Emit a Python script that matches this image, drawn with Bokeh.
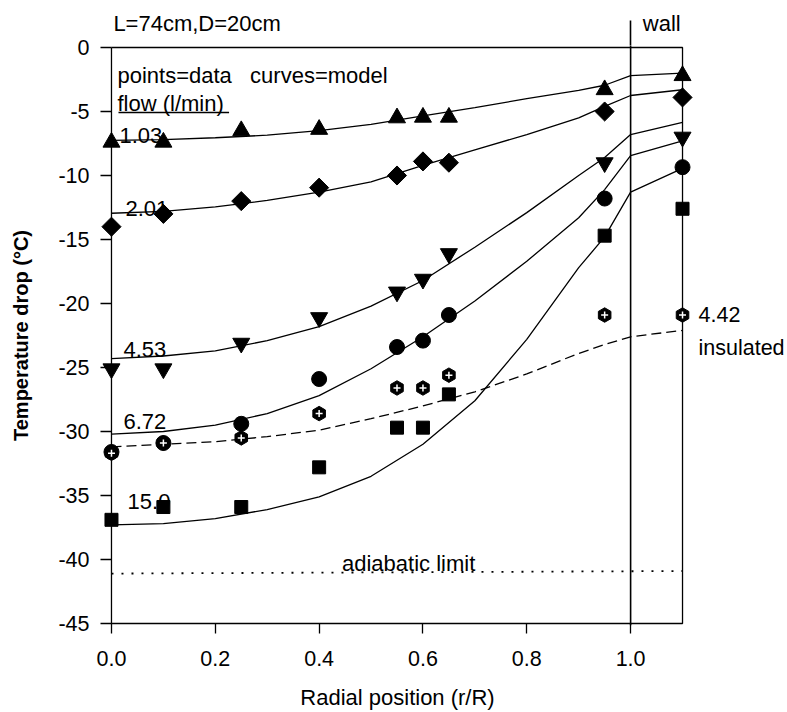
from bokeh.plotting import figure
from bokeh.models import Range1d, FixedTicker, Label, LinearAxis, Span
from bokeh.embed import file_html
from bokeh.resources import INLINE
import math

FONT = "Liberation Sans"

# ---------------- data ----------------
R_DATA = [0.0, 0.1, 0.25, 0.4, 0.55, 0.6, 0.65, 0.95, 1.1]
T_103 = [-7.4, -7.4, -6.5, -6.4, -5.5, -5.45, -5.45, -3.3, -2.2]
T_201 = [-14.0, -13.0, -12.0, -10.95, -10.0, -8.9, -9.0, -5.0, -3.9]
T_453 = [-25.1, -25.1, -23.1, -21.1, -19.1, -18.1, -16.1, -9.0, -7.0]
T_672 = [-31.6, -30.9, -29.4, -25.9, -23.4, -22.9, -20.9, -11.8, -9.35]
T_150 = [-36.9, -35.9, -35.9, -32.8, -29.7, -29.7, -27.1, -14.7, -12.6]
T_442_INS = [-31.7, -30.9, -30.5, -28.6, -26.6, -26.6, -25.6, -20.9, -20.9]

R_MODEL = [0.0, 0.1, 0.2, 0.3, 0.4, 0.5, 0.6, 0.7, 0.8, 0.9, 0.95, 1.0, 1.1]
M_103 = [-7.25, -7.2, -7.05, -6.85, -6.5, -6.0, -5.35, -4.7, -4.0, -3.35, -2.95, -2.2, -2.0]
M_201 = [-12.95, -12.8, -12.45, -11.95, -11.3, -10.5, -9.2, -8.0, -6.8, -5.5, -4.6, -3.75, -3.3]
M_453 = [-24.3, -24.1, -23.7, -22.9, -21.8, -20.2, -18.2, -15.6, -12.9, -10.0, -8.6, -6.8, -5.85]
M_672 = [-30.2, -30.0, -29.5, -28.6, -27.2, -25.1, -22.6, -19.8, -16.7, -13.3, -11.1, -8.45, -7.3]
M_150 = [-37.3, -37.2, -36.8, -36.1, -35.1, -33.5, -31.0, -27.6, -22.8, -17.2, -14.8, -11.3, -9.45]
M_442_INS = [-31.2, -31.0, -30.8, -30.4, -29.9, -29.0, -28.0, -26.9, -25.5, -23.9, -23.2, -22.6, -22.1]

ADIAB_R = [0.0, 1.1]
ADIAB_T = [-41.1, -40.9]

FLOW_LABELS = ["1.03", "2.01", "4.53", "6.72", "15.0"]
INSUL_LABEL = "4.42"

X_TICKS = [0.0, 0.2, 0.4, 0.6, 0.8, 1.0]
X_TICK_LABELS = ["0.0", "0.2", "0.4", "0.6", "0.8", "1.0"]
Y_TICKS = [-45, -40, -35, -30, -25, -20, -15, -10, -5, 0]
Y_TICK_LABELS = ["-45", "-40", "-35", "-30", "-25", "-20", "-15", "-10", "-5", "0"]

R_MIN, R_MAX = 0.0, 1.1
T_MIN, T_MAX = -45.0, 0.0
WALL_R = 1.0

# ---------------- figure ----------------
PX_X = 520.0   # pixels per unit r/R
PX_Y = 12.8    # pixels per degree
p = figure(width=787, height=712, output_backend="svg", toolbar_location=None,
           x_range=Range1d(R_MIN - 11 / PX_X, R_MAX + 12 / PX_X),
           y_range=Range1d(T_MIN - 2 / PX_Y, T_MAX + 2 / PX_Y),
           min_border_left=100, min_border_right=92, min_border_top=45, min_border_bottom=87)
p.grid.visible = False
p.outline_line_color = None
p.background_fill_color = "white"
p.border_fill_color = "white"

xa = p.xaxis[0]
xa.ticker = FixedTicker(ticks=X_TICKS)
xa.major_label_overrides = dict(zip(X_TICKS, X_TICK_LABELS))
xa.axis_line_color = None
xa.major_tick_in = 2
xa.major_tick_out = 8
xa.major_tick_line_width = 1.3
xa.minor_tick_line_color = None
xa.major_label_standoff = 17
xa.major_label_text_font = FONT
xa.major_label_text_font_size = "21.5px"
xa.major_label_text_color = "black"
xa.axis_label = "Radial position (r/R)"
xa.axis_label_standoff = 16
xa.axis_label_text_font = FONT
xa.axis_label_text_font_size = "22px"
xa.axis_label_text_font_style = "normal"
xa.axis_label_text_color = "black"

ya = p.yaxis[0]
ya.ticker = FixedTicker(ticks=Y_TICKS)
ya.major_label_overrides = dict(zip(Y_TICKS, Y_TICK_LABELS))
ya.axis_line_color = None
ya.major_tick_in = 11
ya.major_tick_out = 0
ya.major_tick_line_width = 1.3
ya.minor_tick_line_color = None
ya.major_label_standoff = 11
ya.major_label_text_font = FONT
ya.major_label_text_font_size = "21.5px"
ya.major_label_text_color = "black"
ya.axis_label = "Temperature drop (°C)"
ya.axis_label_standoff = 23
ya.axis_label_text_font = FONT
ya.axis_label_text_font_size = "20px"
ya.axis_label_text_font_style = "bold"
ya.axis_label_text_color = "black"

# top: header texts and the wall line continuing above the box
TOP_POS = [0.165, 1.06]
TOP_TEXT = ["L=74cm,D=20cm", "wall"]
top = LinearAxis(ticker=FixedTicker(ticks=TOP_POS, minor_ticks=[WALL_R]),
                 major_label_overrides=dict(zip(TOP_POS, TOP_TEXT)),
                 axis_line_color=None, major_tick_line_color=None,
                 major_tick_out=0, major_tick_in=0,
                 minor_tick_out=25, minor_tick_in=0,
                 minor_tick_line_color="black", minor_tick_line_width=1.6,
                 major_label_standoff=-15, major_label_text_font=FONT,
                 major_label_text_font_size="22px", major_label_text_color="black")
p.add_layout(top, "above")

# right: insulated-run labels
RIGHT_POS = [-20.9, -23.5]
RIGHT_TEXT = [INSUL_LABEL, "insulated"]
right = LinearAxis(ticker=FixedTicker(ticks=RIGHT_POS, minor_ticks=[]),
                   major_label_overrides=dict(zip(RIGHT_POS, RIGHT_TEXT)),
                   axis_line_color=None, major_tick_line_color=None,
                   major_tick_out=0, major_tick_in=0, minor_tick_line_color=None,
                   major_label_standoff=4, major_label_text_font=FONT,
                   major_label_text_font_size="21.5px", major_label_text_color="black")
p.add_layout(right, "right")

# frame box and wall
p.line([R_MIN, R_MAX, R_MAX, R_MIN, R_MIN], [T_MAX, T_MAX, T_MIN, T_MIN, T_MAX],
       line_color="black", line_width=1.3)
p.add_layout(Span(location=WALL_R, dimension="height", line_color="black", line_width=1.6))

# adiabatic limit
p.line(ADIAB_R, ADIAB_T, line_color="black", line_width=1.8, line_dash="2 8")

# model curves
for m in [M_103, M_201, M_453, M_672, M_150]:
    p.line(R_MODEL, m, line_color="black", line_width=1.3)
p.line(R_MODEL, M_442_INS, line_color="black", line_width=1.3, line_dash="10 5")

# data points
p.scatter(R_DATA, T_103, marker="triangle", size=17, color="black")
p.scatter(R_DATA, T_201, marker="square", size=13.5, angle=math.pi / 4, color="black")
p.scatter(R_DATA, T_453, marker="inverted_triangle", size=17, color="black")
p.scatter(R_DATA, T_672, marker="circle", size=15, color="black")
p.scatter(R_DATA, T_150, marker="square", size=13, color="black")
p.scatter(R_DATA, T_442_INS, marker="hex", size=14.5, angle=math.pi / 2, color="black")
p.scatter(R_DATA, T_442_INS, marker="cross", size=7, line_color="white", line_width=1.5)

# texts
def lab(x, y, t, size="22px"):
    p.add_layout(Label(x=x, y=y, text=t, text_font=FONT, text_font_size=size,
                       text_color="black", text_baseline="alphabetic", text_align="left"))

lab(0.0115, -2.15, "points=data")
lab(0.267, -2.15, "curves=model")
lab(0.0115, -4.41, "flow (l/min)")
p.segment(x0=[0.0135], y0=[-5.08], x1=[0.2265], y1=[-5.08], line_color="black", line_width=1.5)

flow_pos = [(0.0154, -6.85), (0.027, -12.55), (0.023, -23.6), (0.023, -29.2), (0.031, -35.5)]
for (x, y), t in zip(flow_pos, FLOW_LABELS):
    lab(x, y, t)

lab(0.444, -40.3, "adiabatic limit")

open("out.html", "w").write(file_html(p, INLINE))
